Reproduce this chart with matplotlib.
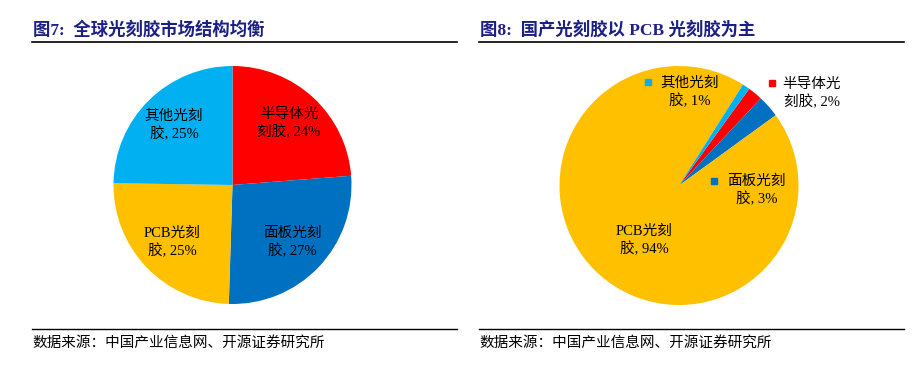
import matplotlib
matplotlib.use('Agg')
import matplotlib.pyplot as plt
from matplotlib.lines import Line2D

plt.rcParams['font.family'] = ['Liberation Serif', 'Noto Sans CJK SC']

# ---------------- data ----------------
names = ['半导体光刻胶', '面板光刻胶', 'PCB光刻胶', '其他光刻胶']
wrap_at = [4, 4, 5, 4]
global_share = [24, 27, 25, 25]
domestic_share = [2, 3, 94, 1]
colors = ['#FF0000', '#0070C0', '#FFC000', '#00B0F0']

title_left = '图7:  全球光刻胶市场结构均衡'
title_right = '图8:  国产光刻胶以 PCB 光刻胶为主'
source = '数据来源：中国产业信息网、开源证券研究所'

# ---------------- layout ----------------
W, H = 917, 372
TITLE_COLOR = '#1C1F86'
fig = plt.figure(figsize=(W / 100, H / 100), dpi=100)


def fx(px):
    return px / W


def fy(py):
    return 1 - py / H


def labels_for(shares):
    out = []
    for n, k, s in zip(names, wrap_at, shares):
        out.append(f'{n[:k]}\n{n[k:]}, {s}%')
    return out


def pie_axes(cx, cy, r, half=150):
    ax = fig.add_axes([fx(cx - half), fy(cy + half), 2 * half / W, 2 * half / H])
    return ax, half / r


# panel headers / footers
for x0, x1, title in [(32, 457, title_left), (479, 904, title_right)]:
    fig.text(fx(x0 + 1), fy(30), title, fontsize=12.5, fontweight='bold',
             color=TITLE_COLOR, ha='left', va='center')
    fig.add_artist(Line2D([fx(x0), fx(x1)], [fy(42.3), fy(42.3)],
                          color='black', lw=1.2))
    fig.add_artist(Line2D([fx(x0), fx(x1)], [fy(329), fy(329)],
                          color='black', lw=1.0))
    fig.text(fx(x0), fy(343), source, fontsize=10.5, color='black',
             ha='left', va='center')

# ---------------- left pie ----------------
axL, limL = pie_axes(232.5, 185, 119)
wedges, _ = axL.pie(global_share, colors=colors, startangle=90, counterclock=False,
                    radius=1, wedgeprops=dict(linewidth=0))
import numpy as np
for w, lab in zip(wedges, labels_for(global_share)):
    mid = np.deg2rad((w.theta1 + w.theta2) / 2)
    axL.text(0.7 * np.cos(mid), 0.7 * np.sin(mid), lab, ha='center', va='center',
             fontsize=10.5, linespacing=1.35, multialignment='center')
axL.set_xlim(-limL, limL)
axL.set_ylim(-limL, limL)
axL.axis('off')

# ---------------- right pie ----------------
axR, limR = pie_axes(679, 185.5, 119.5)
wedges, _ = axR.pie(domestic_share, colors=colors, startangle=54, counterclock=False,
                    radius=1, wedgeprops=dict(linewidth=0))
label_pos = [(1.11, 0.77), (0.65, -0.04), (-0.29, -0.46), (0.09, 0.78)]
key_pos = [(0.78, 0.86), (0.29, 0.04), None, (-0.26, 0.87)]
for lab, pos, kp, c in zip(labels_for(domestic_share), label_pos, key_pos, colors):
    axR.text(pos[0], pos[1], lab, ha='center', va='center', fontsize=10.5,
             linespacing=1.35, multialignment='center')
    if kp is not None:
        axR.plot([kp[0]], [kp[1]], marker='s', markersize=4.6, color=c,
                 linestyle='none', clip_on=False)
axR.set_xlim(-limR, limR)
axR.set_ylim(-limR, limR)
axR.axis('off')

fig.savefig('out.png', dpi=100, facecolor='white')
